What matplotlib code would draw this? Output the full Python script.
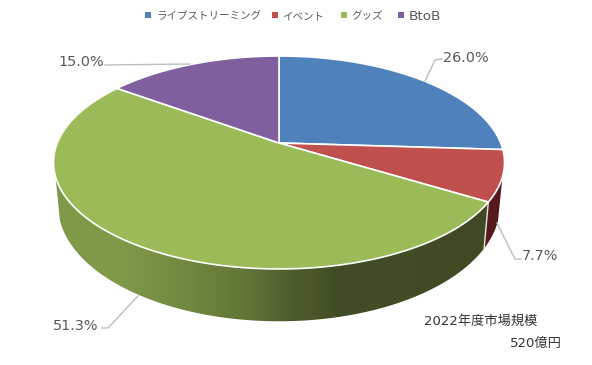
import numpy as np
import matplotlib
matplotlib.use("Agg")
import matplotlib.pyplot as plt
from matplotlib.patches import Polygon, Rectangle
from matplotlib.colors import LinearSegmentedColormap

categories = ["ライブストリーミング", "イベント", "グッズ", "BtoB"]
values = [26.0, 7.7, 51.3, 15.0]
labels = ["26.0%", "7.7%", "51.3%", "15.0%"]
colors = ["#4f81bd", "#c0504d", "#9bbb59", "#7f5f9e"]
side_red = "#561a1c"
note1 = "2022年度市場規模"
note2 = "520億円"

plt.rcParams['font.family'] = ['DejaVu Sans', 'Noto Sans CJK JP']
JP = ['Noto Sans CJK JP', 'DejaVu Sans']
TXT = "#595959"

fig = plt.figure(figsize=(5.92, 3.65), dpi=100)
ax = fig.add_axes([0, 0, 1, 1])
ax.set_xlim(0, 592)
ax.set_ylim(365, 0)
ax.axis("off")

CX, CY, A, B, K = 279.0, 143.0, 221.7, 102.9, 0.183
LOW_F, LOW_G, LOW_Y = 0.98, 1.09, 184.0


def rim(t):
    s, c = np.sin(t), np.cos(t)
    w = 1 + K * c
    return CX + A * s / w, CY - B * c / w


def low(t):
    s, c = np.sin(t), np.cos(t)
    w = 1 + K * c
    return CX + LOW_F * A * s / w, LOW_Y - LOW_G * B * c / w


cum = np.concatenate([[0], np.cumsum(values)]) / sum(values) * 2 * np.pi
VIS0, VIS1 = np.radians(108), np.radians(252)


def side_poly(t0, t1):
    t = np.linspace(t0, t1, 120)
    x1, y1 = rim(t)
    x2, y2 = low(t[::-1])
    return np.column_stack([np.r_[x1, x2], np.r_[y1, y2]])


# side: red part
ax.add_patch(Polygon(side_poly(VIS0, cum[2]), closed=True, fc=side_red, ec="none", zorder=1))

# side: green part with horizontal shading
cmap = LinearSegmentedColormap.from_list("g", [
    (0.00, "#7e9a48"), (0.15, "#80994a"), (0.30, "#71893f"), (0.45, "#5f7435"),
    (0.53, "#505f2d"), (0.65, "#414e25"), (1.00, "#3f4a24")])
grad = np.linspace(0, 1, 256)[None, :]
im = ax.imshow(grad, cmap=cmap, extent=(54, 492, 330, 150), aspect="auto", zorder=1)
gp = Polygon(side_poly(cum[2], VIS1), closed=True, fc="none", ec="none", zorder=1)
ax.add_patch(gp)
im.set_clip_path(gp)
ax.set_xlim(0, 592)
ax.set_ylim(365, 0)

# boundary on the side
xa, ya = rim(cum[2]); xb, yb = low(cum[2])
ax.plot([xa, xb], [ya, yb], color="#e6e6e0", lw=1, zorder=2)

# top slices
for i, col in enumerate(colors):
    t = np.linspace(cum[i], cum[i + 1], 200)
    x, y = rim(t)
    pts = np.column_stack([np.r_[CX, x], np.r_[CY, y]])
    ax.add_patch(Polygon(pts, closed=True, fc=col, ec="white", lw=1.2, joinstyle="round", zorder=3))

# leader lines
leaders = [
    ([425, 435, 442], [81, 60, 59]),
    ([497, 515, 521], [223, 259, 259]),
    ([138, 108, 102], [296, 328, 328]),
    ([190, 105], [64, 65]),
]
for lx, ly in leaders:
    ax.plot(lx, ly, color="#bdbdbd", lw=1, zorder=4)

# value labels
pos = [(443, 57), (522, 255), (53, 324), (58, 60)]
for (x, y), s in zip(pos, labels):
    ax.text(x, y, s, fontsize=10.4, color=TXT, ha="left", va="center_baseline", zorder=5)

# legend
mk_x = [145, 272, 341, 398]
tx_x = [156, 282, 351, 409]
for i, c in enumerate(categories):
    ax.add_patch(Rectangle((mk_x[i], 12), 6, 6, fc=colors[i], ec="none"))
    if c.isascii():
        ax.text(tx_x[i], 15.5, c, fontsize=9.7, color=TXT, ha="left", va="center_baseline")
    else:
        ax.text(tx_x[i], 15.5, c, fontsize=7.6, color=TXT, ha="left", va="center_baseline", family=JP)

# note
ax.text(424, 320, note1, fontsize=9.5, color="#333333", ha="left", va="center_baseline")
ax.text(510, 342, note2, fontsize=9.5, color="#333333", ha="left", va="center_baseline")

fig.savefig("out.png", dpi=100)
